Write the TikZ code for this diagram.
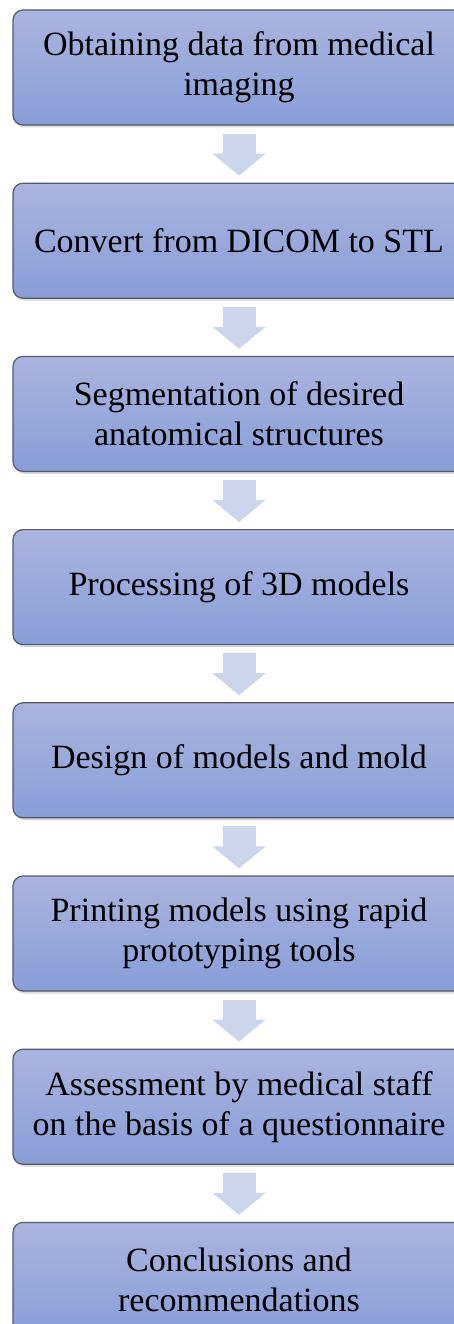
\documentclass[tikz,border=0pt]{standalone}
\usepackage{fontspec}
\setmainfont{Liberation Serif}
\usetikzlibrary{positioning,arrows.meta,shadows}

\definecolor{boxtop}{HTML}{AAB5E0}
\definecolor{boxbottom}{HTML}{889DD7}
\definecolor{boxline}{HTML}{55596B}
\definecolor{arrowfill}{HTML}{CDD5EC}

\begin{document}
\begin{tikzpicture}[
                stage/.style={draw=boxline, line width=1.2pt, rounded corners=10pt,
                    top color=boxtop, bottom color=boxbottom,
                    minimum width=452pt, minimum height=115pt, align=center,
                    font=\fontsize{34}{40}\selectfont,
                    drop shadow={shadow xshift=1.5pt, shadow yshift=-2.5pt, opacity=0.3}},
                flow/.style={draw=arrowfill, line width=33pt,
                    -{Triangle[width=52pt, length=22pt]},
                    shorten <=8pt, shorten >=7pt},
                node distance=57pt
            ]

            % fixed page size, the boxes run past the right and bottom edges
            \useasboundingbox (0,0) rectangle (454pt,-1324pt);

            \node[stage] (s1) at (239pt,-67.5pt) {Obtaining data from medical\\imaging};
            \node[stage, below=of s1] (s2) {Convert from DICOM to STL};
            \node[stage, below=of s2] (s3) {Segmentation of desired\\anatomical structures};
            \node[stage, below=of s3] (s4) {Processing of 3D models};
            \node[stage, below=of s4] (s5) {Design of models and mold};
            \node[stage, below=of s5] (s6) {Printing models using rapid\\prototyping tools};
            \node[stage, below=of s6] (s7) {Assessment by medical staff\\on the basis of a questionnaire};
            \node[stage, below=of s7] (s8) {Conclusions and\\recommendations};

            \foreach \a/\b in {s1/s2, s2/s3, s3/s4, s4/s5, s5/s6, s6/s7, s7/s8}
                \draw[flow] (\a.south) -- (\b.north);

        \end{tikzpicture}
\end{document}
